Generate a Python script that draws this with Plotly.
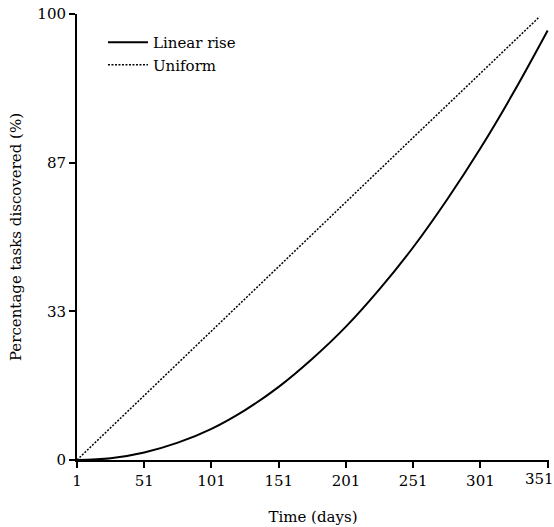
import plotly.graph_objects as go

# Data
days_linear = [1, 26, 51, 76, 101, 126, 151, 176, 201, 226, 251, 276, 301, 326, 351]
pct_linear = [0, 0.4, 1.7, 3.9, 7.0, 11.2, 16.4, 22.7, 29.9, 38.3, 47.7, 58.3, 69.9, 82.6, 96.3]

days_uniform = [1, 51, 101, 151, 201, 251, 301, 345]
pct_uniform = [0, 14.5, 28.9, 43.4, 57.8, 72.3, 86.7, 99.4]

x_tickvals = [1, 51, 101, 151, 201, 251, 301, 351]
x_ticktext = ["1", "51", "101", "151", "201", "251", "301", ""]
last_x_label = "351"
y_tickvals = [0, 33.33, 66.67, 100]
y_ticktext = ["0", "33", "87", "100"]

FONT = "DejaVu Serif"
FS = 15

fig = go.Figure()
fig.add_trace(go.Scatter(
    x=days_linear, y=pct_linear, mode="lines", name="Linear rise",
    line=dict(color="black", width=2, shape="spline", smoothing=1),
))
fig.add_trace(go.Scatter(
    x=days_uniform, y=pct_uniform, mode="lines", name="Uniform",
    line=dict(color="black", width=1.5, dash="2px,1.5px"),
))

# last tick label placed so it stays inside the picture, as in the reference
fig.add_annotation(
    x=x_tickvals[-1], y=0, xref="x", yref="y", text=last_x_label,
    showarrow=False, xanchor="center", yanchor="top", xshift=-8, yshift=-8,
    font=dict(family=FONT, size=FS, color="black"),
)

fig.update_layout(
    template="none",
    width=554, height=527,
    margin=dict(l=77, r=5, t=14, b=67, autoexpand=False),
    paper_bgcolor="white", plot_bgcolor="white",
    font=dict(family=FONT, size=FS, color="black"),
    showlegend=True,
    legend=dict(
        x=0.055, y=0.973, xanchor="left", yanchor="top",
        bgcolor="rgba(0,0,0,0)", font=dict(family=FONT, size=FS),
        tracegroupgap=0, itemwidth=40, borderwidth=0,
    ),
    xaxis=dict(
        range=[1, 352], tickvals=x_tickvals, ticktext=x_ticktext,
        ticks="outside", ticklen=6, automargin=False,
        tickwidth=2, tickcolor="black", showline=True, linecolor="black",
        linewidth=2, showgrid=False, zeroline=False,
        tickfont=dict(family=FONT, size=FS),
        title=dict(text="Time (days)", font=dict(family=FONT, size=FS), standoff=22),
    ),
    yaxis=dict(
        range=[0, 100], tickvals=y_tickvals, ticktext=y_ticktext, automargin=False,
        ticks="outside", ticklen=6, tickwidth=2, tickcolor="black",
        showline=True, linecolor="black", linewidth=2, showgrid=False,
        zeroline=False, tickfont=dict(family=FONT, size=FS),
        title=dict(text="Percentage tasks discovered (%)",
                   font=dict(family=FONT, size=FS), standoff=12),
    ),
)

fig.write_html("out.html")
